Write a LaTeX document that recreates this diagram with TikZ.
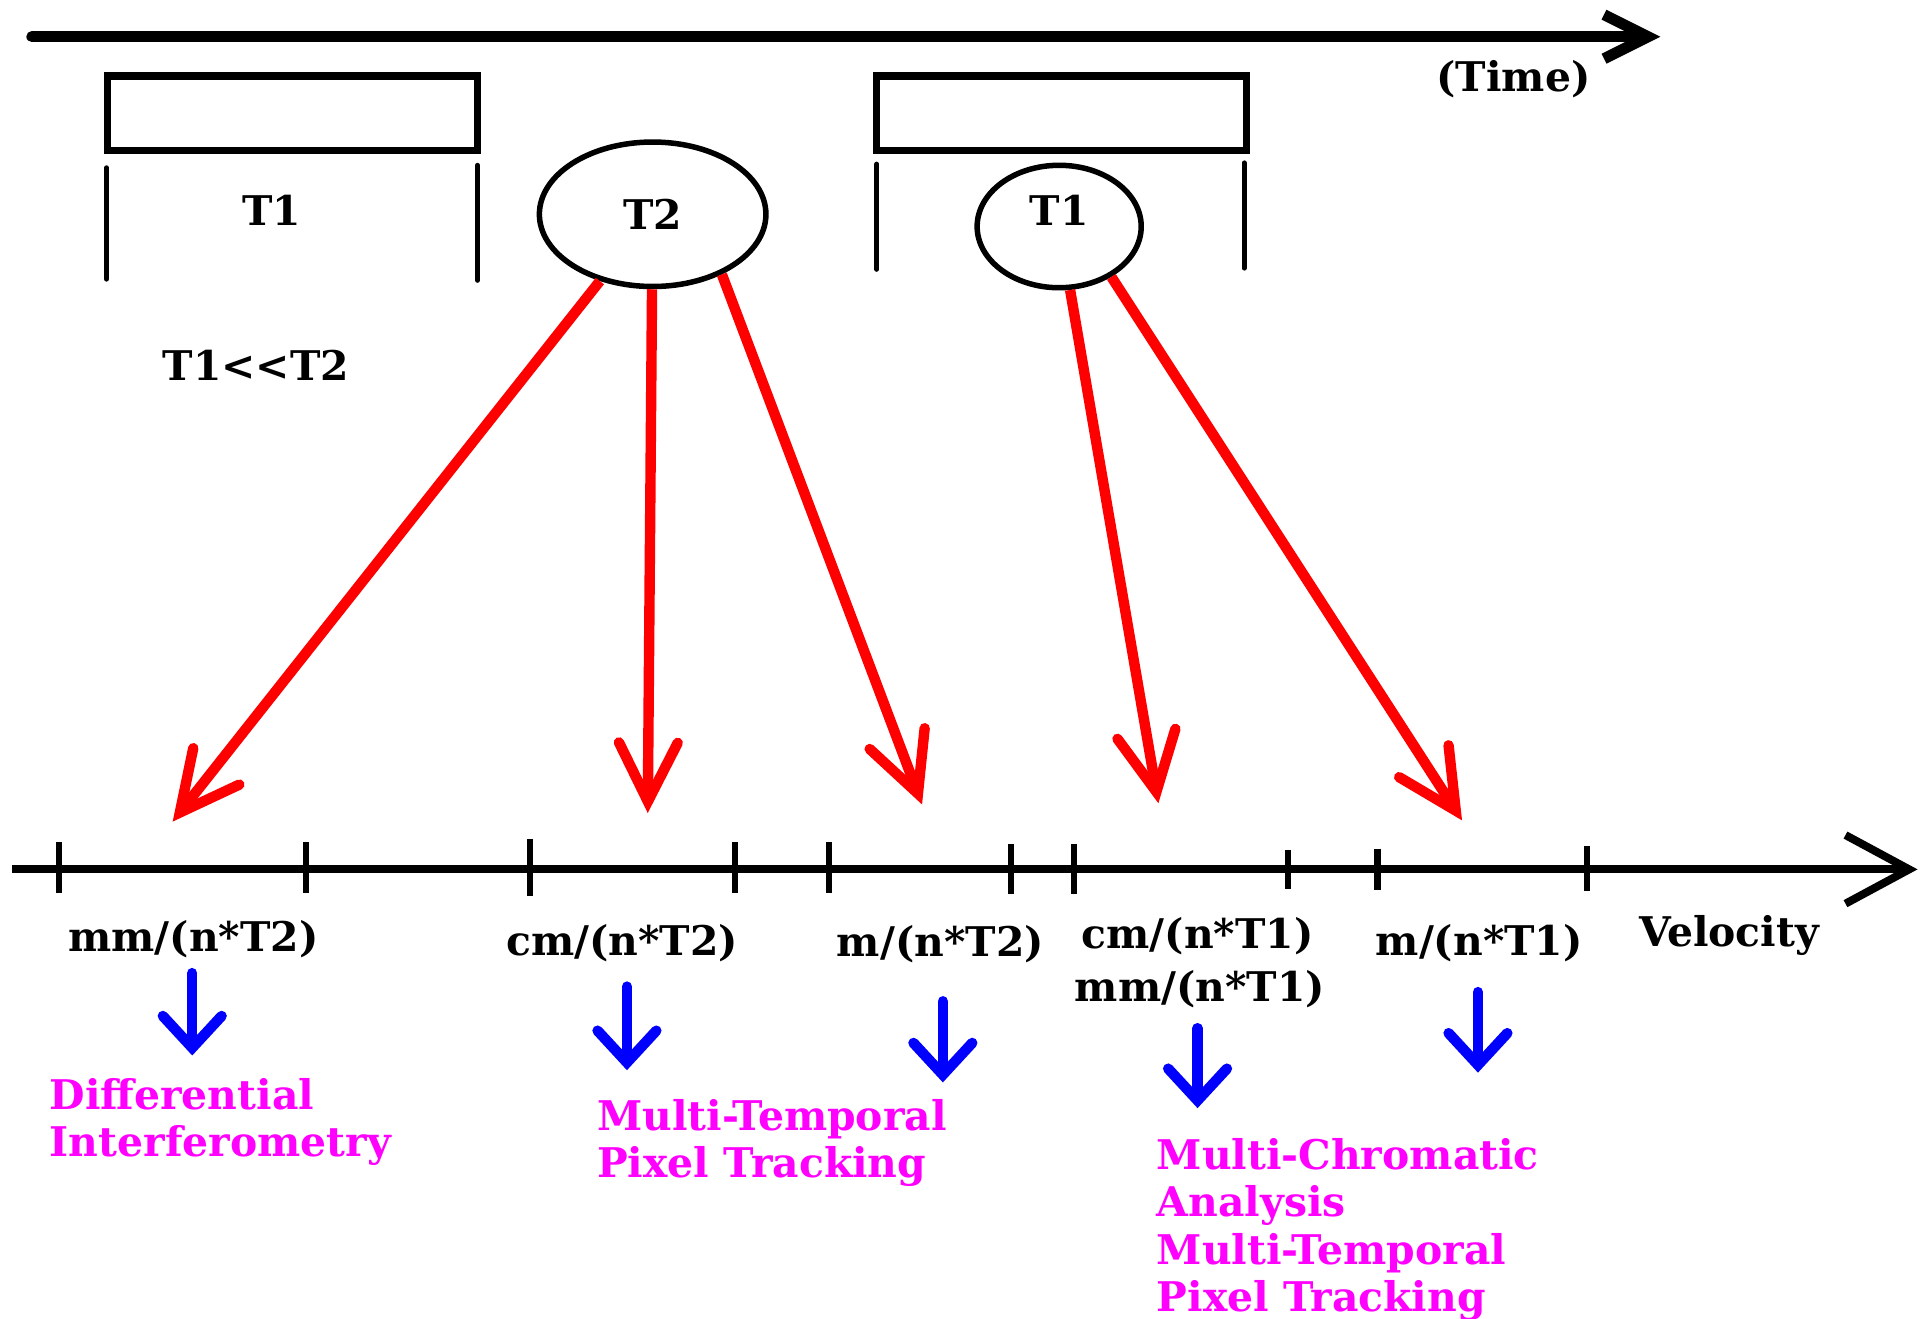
\documentclass[tikz,border=0pt]{standalone}
\usepackage{fontspec}
\setmainfont{DejaVu Serif}
\usetikzlibrary{positioning, shapes.geometric, arrows.meta}
\definecolor{methodpink}{RGB}{255,0,255}

\begin{document}
\begin{tikzpicture}[x=0.1mm, y=-0.1mm,
        every node/.style={font=\fontsize{9.5}{11}\selectfont\bfseries, inner sep=0pt},
        lbl/.style={anchor=base, text depth=0.7mm},
        method/.style={anchor=north west, align=left, text=methodpink},
        bracket/.style={line width=0.4mm, line cap=round},
        axtick/.style={line width=0.5mm},
        redarrow/.style={red, line width=0.85mm, -{Straight Barb[length=4.8mm, width=4.8mm, line cap=round]}},
        bluearrow/.style={blue, line width=0.85mm, line cap=round, -{Straight Barb[length=2.6mm, width=4.8mm, line cap=round]}}]
            \useasboundingbox (0,0) rectangle (1568,1077);

            \coordinate (tstart) at (26,30);
            \coordinate (tend) at (1356,30);
            \draw[line width=0.9mm, line cap=round, -{Straight Barb[length=3.6mm, width=3.6mm]}] (tstart) -- (tend);
            \node (time) at (1236,65) {(Time)};

            \draw[line width=0.6mm] (88,62) rectangle (390,123);
            \draw[bracket] (87,137) -- (87,228);
            \draw[bracket] (390,135) -- (390,229);
            \node (t1a) at (222,172) {T1};
            \node (rel) at (209,298) {T1\mbox{<}\mbox{<}T2};

            \draw[line width=0.6mm] (716,62) rectangle (1018,123);
            \draw[bracket] (716,134) -- (716,220);
            \draw[bracket] (1016,133) -- (1016,219);

            \node[ellipse, draw, line width=0.45mm, minimum width=18.5mm, minimum height=11.8mm] (T2) at (533,175) {T2};
            \node[ellipse, draw, line width=0.45mm, minimum width=13.4mm, minimum height=10mm] (T1) at (865,185) {};
            \node (t1b) at (865,172) {T1};

            \coordinate (vstart) at (10,710);
            \coordinate (vend) at (1566,710);
            \draw[line width=0.65mm, -{Straight Barb[length=5.2mm, width=5.6mm]}] (vstart) -- (vend);
            \foreach \x/\a/\b in {48/688/729, 250/688/729, 433/685/732, 600/688/729, 677/688/729, 826/689/730, 877/689/730, 1052/694/726, 1125/693/727, 1296/691/728}
                \draw[axtick] (\x,\a) -- (\x,\b);

            \node[lbl] (mmT2) at (158,777) {mm/(n*T2)};
            \node[lbl] (cmT2) at (508,780) {cm/(n*T2)};
            \node[lbl] (mT2) at (768,781) {m/(n*T2)};
            \node[lbl] (cmT1) at (978,775) {cm/(n*T1)};
            \node[lbl] (mmT1) at (980,818) {mm/(n*T1)};
            \node[lbl] (mT1) at (1208,780) {m/(n*T1)};
            \node[lbl] (vel) at (1412,773) {Velocity};

            \coordinate (r1) at (141,671);
            \coordinate (r2) at (529,664);
            \coordinate (r3) at (753,657);
            \coordinate (r4) at (946,656);
            \coordinate (r5) at (1194,670);
            \draw[redarrow] (T2) -- (r1);
            \draw[redarrow] (T2) -- (r2);
            \draw[redarrow] (T2.-41) -- (r3);
            \draw[redarrow] (T1) -- (r4);
            \draw[redarrow] (T1.-44) -- (r5);

            \coordinate (b1) at (157,862);
            \coordinate (b2) at (512,874);
            \coordinate (b3) at (770,884);
            \coordinate (b4) at (978,905);
            \coordinate (b5) at (1207,876);
            \foreach \lab/\tip/\gap in {mmT2/b1/1mm, cmT2/b2/1.8mm, mT2/b3/2.9mm, mmT1/b4/1.4mm, mT1/b5/2.25mm}
                \draw[bluearrow, shorten <=\gap] (\lab.south -| \tip) -- (\tip);

            \node[method] (dinsar) at (40,880) {Differential\\Interferometry};
            \node[method] (mtpt) at (487,897) {Multi-Temporal\\Pixel Tracking};
            \node[method] (mca) at (944,929) {Multi-Chromatic\\Analysis\\Multi-Temporal\\Pixel Tracking};
        \end{tikzpicture}
\end{document}
